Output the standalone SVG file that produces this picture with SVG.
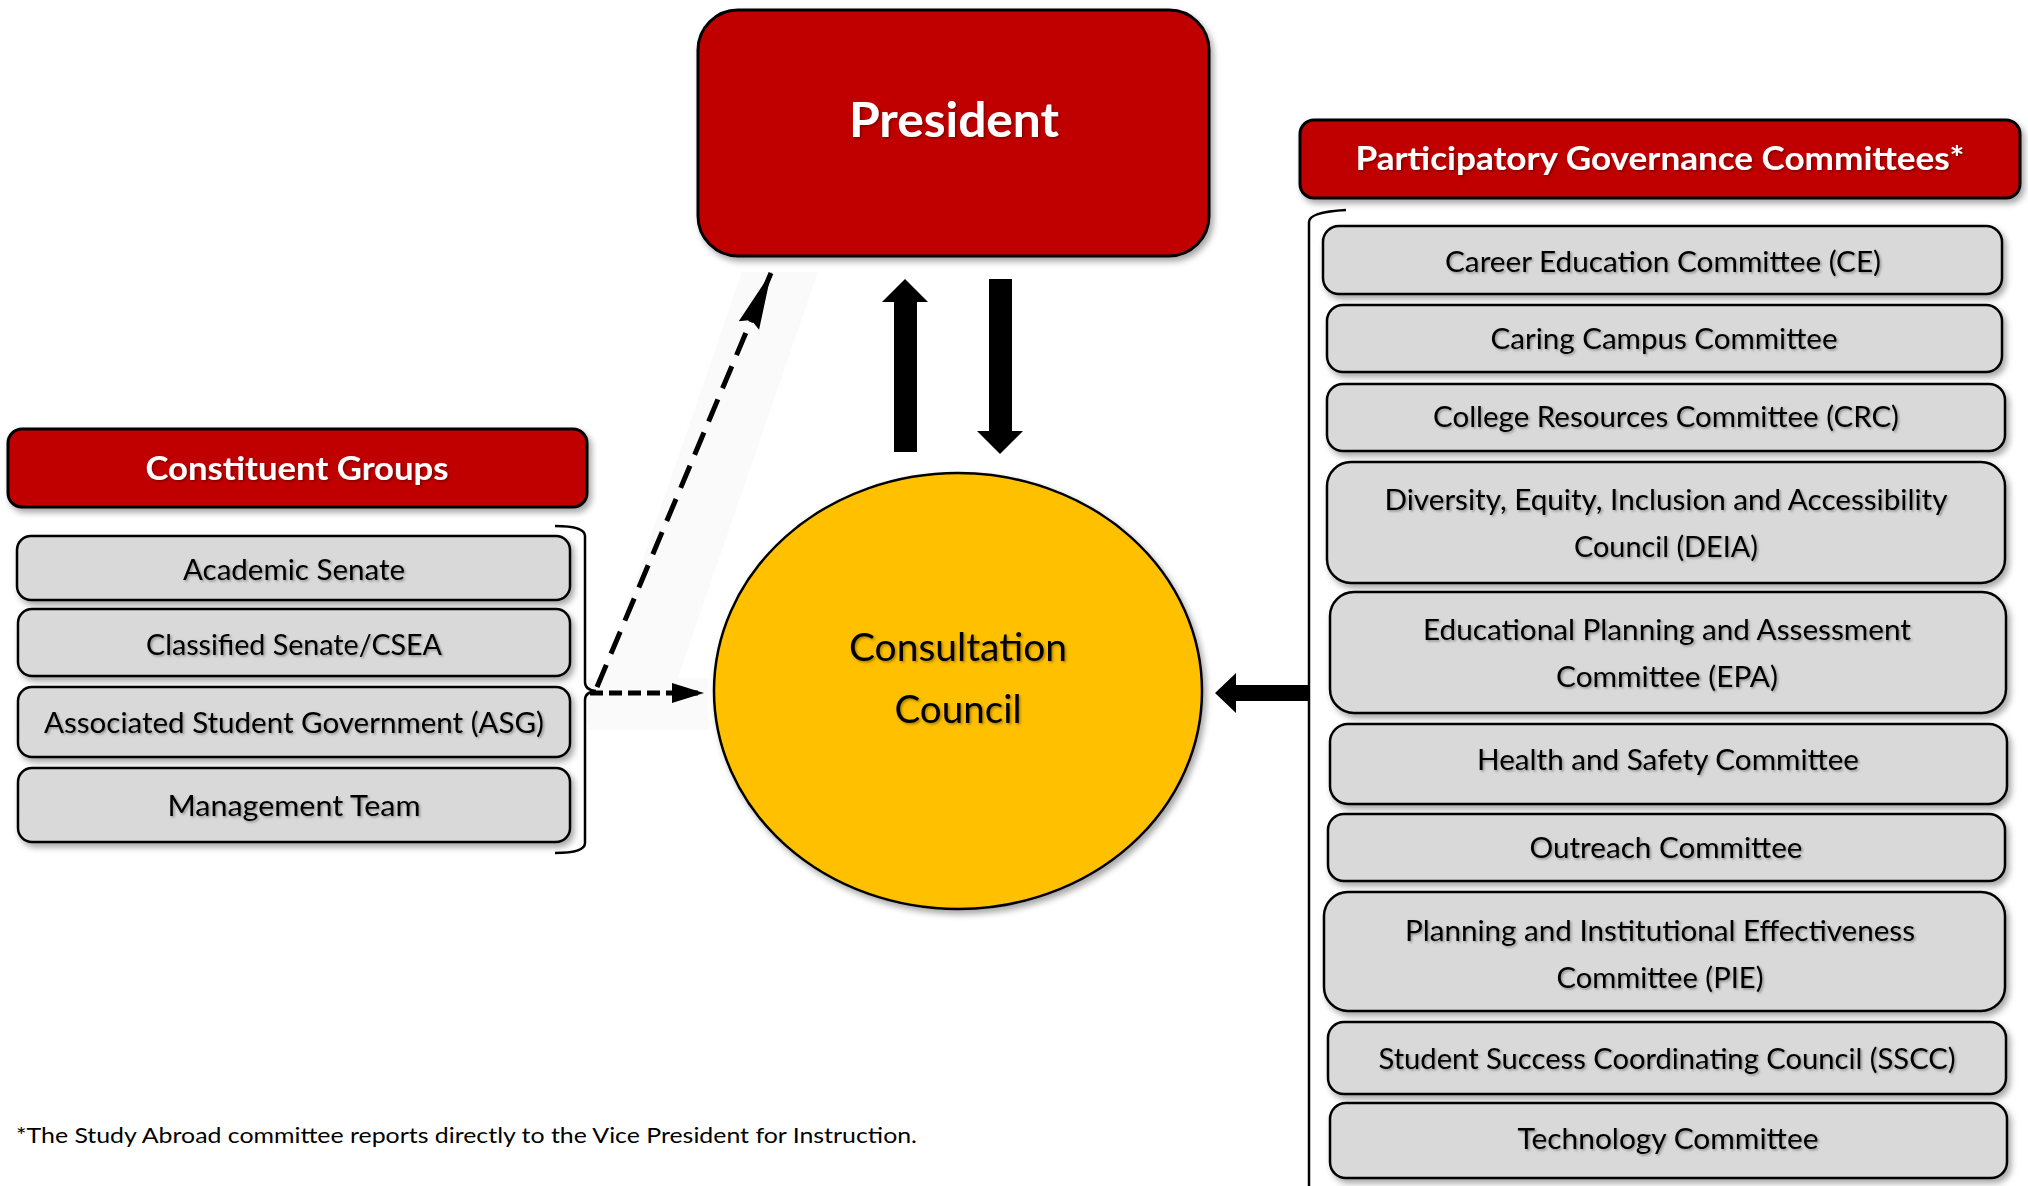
<svg xmlns="http://www.w3.org/2000/svg" width="2028" height="1186" viewBox="0 0 2028 1186">
<defs>
<filter id="sh" x="-10%" y="-10%" width="130%" height="140%">
<feDropShadow dx="3" dy="4" stdDeviation="3" flood-color="#000" flood-opacity="0.35"/>
</filter>
<filter id="tsh" x="-5%" y="-20%" width="110%" height="150%">
<feDropShadow dx="1.5" dy="1.5" stdDeviation="0.8" flood-color="#000" flood-opacity="0.35"/>
</filter>
<marker id="dh" markerUnits="userSpaceOnUse" markerWidth="58" markerHeight="24" refX="57" refY="12" orient="auto">
<path d="M0,1 L58,12 L0,23 L6,12 Z" fill="#000"/>
</marker>
<marker id="dh2" markerUnits="userSpaceOnUse" markerWidth="32" markerHeight="22" refX="31" refY="11" orient="auto">
<path d="M0,1 L32,11 L0,21 Z" fill="#000"/>
</marker>
</defs>
<style>
.red{fill:#C00000;stroke:#000;stroke-width:3}
.grey{fill:#D9D9D9;stroke:#000;stroke-width:2.5}
.ht{font-family:Lato,"Open Sans",sans-serif;font-weight:bold;fill:#fff;text-anchor:middle}
.t{font-family:Lato,"Open Sans",sans-serif;font-size:28px;fill:#000;text-anchor:middle}
.cc{font-family:Lato,"Open Sans",sans-serif;font-size:39px;fill:#000;text-anchor:middle}
.br{fill:none;stroke:#000;stroke-width:2.5}
</style>
<rect width="2028" height="1186" fill="#fff"/>

<!-- faint shadow band behind dashed arrows -->
<polygon points="586,724 662,724 818,272 742,272" fill="#fafafa"/>
<rect x="588" y="678" width="120" height="52" fill="#fafafa"/>

<g id="president">
<rect x="698" y="10" width="511" height="246" rx="40" class="red" filter="url(#sh)"/>
<text x="954" y="137" class="ht" font-size="48" textLength="210" lengthAdjust="spacingAndGlyphs" filter="url(#tsh)">President</text>
</g>

<g id="consultation-council">
<ellipse cx="958" cy="691" rx="244" ry="218" fill="#FFC000" stroke="#000" stroke-width="2.5" filter="url(#sh)"/>
<text x="958" y="661" class="cc" textLength="218" lengthAdjust="spacingAndGlyphs" filter="url(#tsh)">Consultation</text>
<text x="958" y="723" class="cc" textLength="127" lengthAdjust="spacingAndGlyphs" filter="url(#tsh)">Council</text>
</g>

<g id="constituent-groups">
<rect x="8" y="429" width="579" height="78" rx="14" class="red" filter="url(#sh)"/>
<text x="297" y="480" class="ht" font-size="32" textLength="303" lengthAdjust="spacingAndGlyphs" filter="url(#tsh)">Constituent Groups</text>
</g>
<g id="academic-senate">
<rect x="17" y="536" width="553" height="64" rx="14" class="grey" filter="url(#sh)"/>
<text x="294" y="580" class="t" textLength="222" lengthAdjust="spacingAndGlyphs" filter="url(#tsh)">Academic Senate</text>
</g>
<g id="classified-senate">
<rect x="18" y="609" width="552" height="67" rx="14" class="grey" filter="url(#sh)"/>
<text x="294" y="655" class="t" textLength="296" lengthAdjust="spacingAndGlyphs" filter="url(#tsh)">Classified Senate/CSEA</text>
</g>
<g id="asg">
<rect x="18" y="687" width="552" height="70" rx="14" class="grey" filter="url(#sh)"/>
<text x="294" y="733" class="t" textLength="500" lengthAdjust="spacingAndGlyphs" filter="url(#tsh)">Associated Student Government (ASG)</text>
</g>
<g id="management-team">
<rect x="18" y="768" width="552" height="74" rx="14" class="grey" filter="url(#sh)"/>
<text x="294" y="816" class="t" textLength="253" lengthAdjust="spacingAndGlyphs" filter="url(#tsh)">Management Team</text>
</g>
<path id="left-bracket" class="br" d="M555,526 Q585,526 585,536 L585,682 Q585,690 596,691 Q585,692 585,700 L585,843 Q585,853 555,853"/>

<g id="pgc-header">
<rect x="1300" y="120" width="720" height="78" rx="14" class="red" filter="url(#sh)"/>
<text x="1660" y="170" class="ht" font-size="32" textLength="609" lengthAdjust="spacingAndGlyphs" filter="url(#tsh)">Participatory Governance Committees*</text>
</g>
<path id="right-bracket" class="br" d="M1346,210 Q1309,212 1309,222 L1309,1186"/>

<g id="ce">
<rect x="1323" y="226" width="679" height="68" rx="16" class="grey" filter="url(#sh)"/>
<text x="1663" y="272" class="t" textLength="436" lengthAdjust="spacingAndGlyphs" filter="url(#tsh)">Career Education Committee (CE)</text>
</g>
<g id="caring">
<rect x="1327" y="305" width="675" height="67" rx="16" class="grey" filter="url(#sh)"/>
<text x="1664" y="349" class="t" textLength="347" lengthAdjust="spacingAndGlyphs" filter="url(#tsh)">Caring Campus Committee</text>
</g>
<g id="crc">
<rect x="1327" y="384" width="678" height="67" rx="16" class="grey" filter="url(#sh)"/>
<text x="1666" y="427" class="t" textLength="466" lengthAdjust="spacingAndGlyphs" filter="url(#tsh)">College Resources Committee (CRC)</text>
</g>
<g id="deia">
<rect x="1327" y="462" width="678" height="121" rx="24" class="grey" filter="url(#sh)"/>
<text x="1666" y="510" class="t" textLength="563" lengthAdjust="spacingAndGlyphs" filter="url(#tsh)">Diversity, Equity, Inclusion and Accessibility</text>
<text x="1666" y="557" class="t" textLength="184" lengthAdjust="spacingAndGlyphs" filter="url(#tsh)">Council (DEIA)</text>
</g>
<g id="epa">
<rect x="1330" y="592" width="676" height="121" rx="24" class="grey" filter="url(#sh)"/>
<text x="1667" y="640" class="t" textLength="488" lengthAdjust="spacingAndGlyphs" filter="url(#tsh)">Educational Planning and Assessment</text>
<text x="1667" y="687" class="t" textLength="222" lengthAdjust="spacingAndGlyphs" filter="url(#tsh)">Committee (EPA)</text>
</g>
<g id="health-safety">
<rect x="1330" y="724" width="677" height="80" rx="18" class="grey" filter="url(#sh)"/>
<text x="1668" y="770" class="t" textLength="382" lengthAdjust="spacingAndGlyphs" filter="url(#tsh)">Health and Safety Committee</text>
</g>
<g id="outreach">
<rect x="1328" y="814" width="677" height="67" rx="16" class="grey" filter="url(#sh)"/>
<text x="1666" y="858" class="t" textLength="273" lengthAdjust="spacingAndGlyphs" filter="url(#tsh)">Outreach Committee</text>
</g>
<g id="pie">
<rect x="1324" y="892" width="681" height="119" rx="24" class="grey" filter="url(#sh)"/>
<text x="1660" y="941" class="t" textLength="510" lengthAdjust="spacingAndGlyphs" filter="url(#tsh)">Planning and Institutional Effectiveness</text>
<text x="1660" y="988" class="t" textLength="207" lengthAdjust="spacingAndGlyphs" filter="url(#tsh)">Committee (PIE)</text>
</g>
<g id="sscc">
<rect x="1328" y="1022" width="678" height="72" rx="16" class="grey" filter="url(#sh)"/>
<text x="1667" y="1069" class="t" textLength="577" lengthAdjust="spacingAndGlyphs" filter="url(#tsh)">Student Success Coordinating Council (SSCC)</text>
</g>
<g id="technology">
<rect x="1330" y="1103" width="677" height="75" rx="16" class="grey" filter="url(#sh)"/>
<text x="1668" y="1149" class="t" textLength="301" lengthAdjust="spacingAndGlyphs" filter="url(#tsh)">Technology Committee</text>
</g>

<g id="connectors">
<polygon points="905,279 928,302 917,302 917,452 894,452 894,302 882,302" fill="#000"/>
<polygon points="989,279 1012,279 1012,431 1023,431 1000,454 977,431 989,431" fill="#000"/>
<polygon points="1215,693 1236,673 1236,685 1310,685 1310,701 1236,701 1236,713" fill="#000"/>
<line x1="597" y1="687" x2="771" y2="273" stroke="#000" stroke-width="5" stroke-dasharray="24 12" marker-end="url(#dh)"/>
<line x1="590" y1="693" x2="703" y2="693" stroke="#000" stroke-width="5" stroke-dasharray="13 6" marker-end="url(#dh2)"/>
</g>

<text id="footnote" x="16" y="1143" font-family="Lato,'Open Sans',sans-serif" font-size="21" fill="#000" textLength="901" lengthAdjust="spacingAndGlyphs">*The Study Abroad committee reports directly to the Vice President for Instruction.</text>
</svg>
